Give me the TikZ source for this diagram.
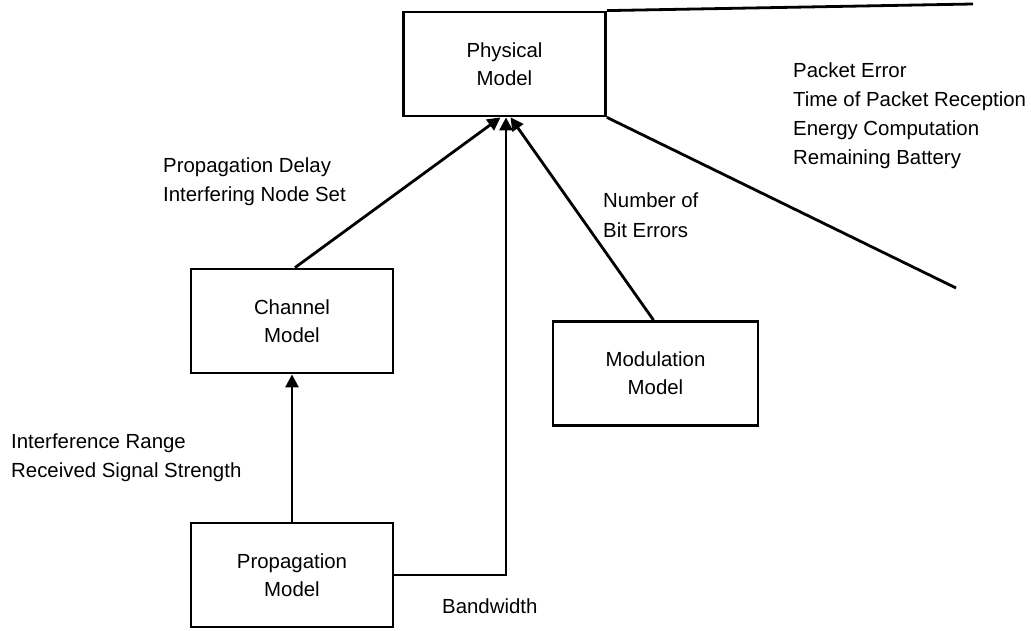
\documentclass[tikz,border=0pt]{standalone}
\usepackage{fontspec}
\setmainfont{Liberation Sans}
\usetikzlibrary{calc,arrows.meta}
\begin{document}
\begin{tikzpicture}[x=1pt,y=-1pt,
  model/.style={draw,line width=2.8pt,minimum width=202pt,minimum height=104pt,inner sep=0pt,align=center,font=\fontsize{20.4}{28}\selectfont},
  lbl/.style={anchor=base west,inner sep=0pt,align=left,font=\fontsize{20.4}{29}\selectfont},
  conn/.style={line width=2.8pt},
  arr/.style={conn,-{Triangle[length=13pt,width=13pt]}}]
\useasboundingbox (0,0) rectangle (1031,631);
\node[model] (phys) at (504.5,64) {Physical\\Model};
\node[model] (chan) at (292,321) {Channel\\Model};
\node[model] (prop) at (292,575) {Propagation\\Model};
\node[model,minimum width=205pt] (mod) at (655.5,373.5) {Modulation\\Model};
\coordinate (tr) at (973,4);
\coordinate (br) at (956,288);
\draw[conn] (phys.north east) -- (tr);
\draw[conn] (phys.south east) -- (br);
\draw[arr] ($(chan.north)+(3,0)$) -- ($(phys.south)+(-4,0)$);
\draw[arr] ($(mod.north)+(-2,0)$) -- ($(phys.south)+(6,0)$);
\draw[arr] (prop.east) -| ($(phys.south)+(1.5,0)$);
\draw[arr] (prop.north) -- (chan.south);
\node[lbl] (pd) at (163,202) {Propagation Delay\\Interfering Node Set};
\node[lbl] (ir) at (11,477) {Interference Range\\Received Signal Strength};
\node[lbl] (pe) at (793,165) {Packet Error\\Time of Packet Reception\\Energy Computation\\Remaining Battery};
\node[lbl] (nb) at (603,237) {Number of\\Bit Errors};
\node[lbl] (bw) at (442,613) {Bandwidth};
\end{tikzpicture}
\end{document}
